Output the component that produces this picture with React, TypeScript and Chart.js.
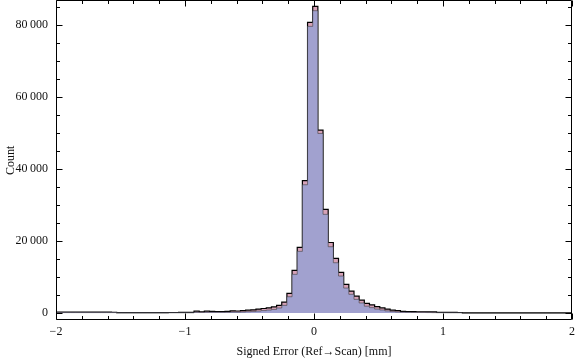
import React, { useEffect, useRef } from 'react';
import { Chart, registerables } from 'chart.js';

Chart.register(...registerables);

// Histogram bins: left edge of first bin and bin width (mm)
const BIN_START = -2.01;
const BIN_WIDTH = 0.04;

// Counts per bin (pink, back series)
const COUNTS_ALL = [
  250, 260, 250, 240, 260, 250, 240, 250, 240, 250, 240, 230, 220,
  120, 110, 120, 110, 120, 110, 120, 130, 120, 130, 140, 150, 160, 170, 180,
  500, 350, 520, 480, 420, 400, 450, 620, 560, 650, 780, 880,
  1100, 1250, 1450, 1700, 2100, 3050, 5470, 11860, 18250, 36800,
  80760, 85200, 50840, 28800, 19600, 15190, 11300, 7970, 6110, 4680,
  3560, 2690, 2250, 1800, 1420, 1110, 830, 640, 470, 400,
  370, 360, 350, 330, 300, 200, 180, 170, 160, 150,
  60, 40, 40, 30, 30, 30, 30, 20, 20, 20, 20, 20, 20, 20, 20, 20, 20, 20, 20, 20, 20,
];

// Counts per bin (purple, front series)
const COUNTS_FRONT = [
  120, 120, 120, 120, 120, 120, 120, 120, 120, 120, 120, 120, 120,
  60, 60, 60, 60, 60, 60, 60, 60, 60, 60, 60, 60, 60, 60, 60,
  200, 150, 220, 200, 180, 180, 200, 260, 250, 300, 380, 450,
  560, 680, 820, 1000, 1400, 2130, 4530, 10750, 17140, 35640,
  79650, 84000, 49900, 27420, 18420, 13970, 10280, 6940, 5200, 3800,
  2800, 1900, 1500, 1100, 850, 600, 400, 300, 220, 180,
  160, 150, 140, 130, 110, 90, 80, 70, 70, 60,
  20, 20, 20, 20, 20, 20, 20, 20, 20, 20, 20, 20, 20, 20, 20, 20, 20, 20, 20, 20, 20,
];

const X_TICKS = [-2, -1, 0, 1, 2];
const Y_TICKS = [0, 20000, 40000, 60000, 80000];
const X_MINOR_STEP = 0.2;
const Y_MINOR_STEP = 5000;
const X_MIN = -2;
const X_MAX = 2;
const Y_MIN = -1800;
const Y_MAX = 86700;
const X_TITLE = 'Signed Error (Ref\u2192Scan) [mm]';
const Y_TITLE = 'Count';

const FONT_FAMILY = '"Liberation Serif", "Times New Roman", Times, serif';

function toSteps(counts: number[]) {
  const pts = counts.map((c, i) => ({ x: +(BIN_START + i * BIN_WIDTH).toFixed(4), y: c }));
  pts.push({ x: +(BIN_START + counts.length * BIN_WIDTH).toFixed(4), y: counts[counts.length - 1] });
  return pts;
}

function fmtY(v: number) {
  if (v === 0) return '0';
  const s = String(Math.round(v));
  return s.replace(/\B(?=(\d{3})+(?!\d))/g, '\u2009');
}

function fmtX(v: number) {
  return v < 0 ? '\u2212' + Math.abs(v) : String(v);
}

function zeroPad(s: any) {
  s.paddingTop = 0;
  s.paddingBottom = 0;
  s.paddingLeft = 0;
  s.paddingRight = 0;
}

const framePlugin = {
  id: 'mmaFrame',
  afterDatasetsDraw(chart: any) {
    const { ctx, chartArea, scales } = chart;
    const { left, right, top, bottom } = chartArea;
    const xs = scales.x;
    const ys = scales.y;
    ctx.save();
    ctx.strokeStyle = '#000';
    ctx.lineWidth = 1;
    const L = Math.round(left) + 0.5;
    const R = Math.round(right) - 0.5;
    const T = Math.round(top) - 0.5;
    const B = Math.round(bottom) - 0.5;
    ctx.beginPath();
    ctx.rect(L, T, R - L, B - T);
    ctx.stroke();
    ctx.beginPath();
    const nx = Math.round((X_MAX - X_MIN) / X_MINOR_STEP);
    for (let i = 0; i <= nx; i++) {
      const v = X_MIN + i * X_MINOR_STEP;
      const major = X_TICKS.some((t) => Math.abs(t - v) < 1e-6);
      const len = major ? 6 : 3.5;
      const px = Math.round(xs.getPixelForValue(v)) + 0.5;
      ctx.moveTo(px, B);
      ctx.lineTo(px, B - len);
      ctx.moveTo(px, T);
      ctx.lineTo(px, T + len);
    }
    for (let v = 0; v <= Y_MAX; v += Y_MINOR_STEP) {
      const major = Y_TICKS.includes(v);
      const len = major ? 6 : 3.5;
      const py = Math.round(ys.getPixelForValue(v)) + 0.5;
      ctx.moveTo(L, py);
      ctx.lineTo(L + len, py);
      ctx.moveTo(R, py);
      ctx.lineTo(R - len, py);
    }
    ctx.stroke();
    ctx.restore();
  },
};

export default function App() {
  const ref = useRef<HTMLCanvasElement | null>(null);

  useEffect(() => {
    document.body.style.margin = '0';
    const canvas = ref.current;
    if (!canvas) return;
    const chart = new Chart(canvas, {
      type: 'line',
      data: {
        datasets: [
          {
            label: 'front',
            data: toSteps(COUNTS_FRONT),
            stepped: 'after',
            fill: 'origin',
            backgroundColor: 'rgb(161,161,207)',
            borderColor: 'rgba(60,60,60,0.65)',
            borderWidth: 0.9,
            pointRadius: 0,
          },
          {
            label: 'all',
            data: toSteps(COUNTS_ALL),
            stepped: 'after',
            fill: 'origin',
            backgroundColor: 'rgb(214,162,184)',
            borderColor: '#000',
            borderWidth: 1.2,
            pointRadius: 0,
          },
        ],
      },
      options: {
        responsive: false,
        animation: false,
        events: [],
        layout: { autoPadding: false, padding: { top: 1, right: 4, left: 0, bottom: 0 } },
        plugins: { legend: { display: false }, tooltip: { enabled: false } },
        scales: {
          x: {
            type: 'linear',
            min: X_MIN,
            max: X_MAX,
            grid: { display: false, drawTicks: false },
            border: { display: false },
            afterBuildTicks: (s: any) => {
              s.ticks = X_TICKS.map((v) => ({ value: v }));
            },
            afterFit: (s: any) => {
              s.height = 39.5;
              zeroPad(s);
            },
            ticks: {
              padding: 5,
              color: '#111',
              font: { family: FONT_FAMILY, size: 12 },
              callback: (v: any) => fmtX(Number(v)),
              maxRotation: 0,
              autoSkip: false,
            },
            title: {
              display: true,
              text: X_TITLE,
              color: '#111',
              font: { family: FONT_FAMILY, size: 12 },
              padding: { top: 1, bottom: 0 },
            },
          },
          y: {
            type: 'linear',
            min: Y_MIN,
            max: Y_MAX,
            grid: { display: false, drawTicks: false },
            border: { display: false },
            afterBuildTicks: (s: any) => {
              s.ticks = Y_TICKS.map((v) => ({ value: v }));
            },
            afterFit: (s: any) => {
              s.width = 56;
              zeroPad(s);
            },
            ticks: {
              padding: 8,
              color: '#111',
              font: { family: FONT_FAMILY, size: 12 },
              callback: (v: any) => fmtY(Number(v)),
              autoSkip: false,
            },
            title: {
              display: true,
              text: Y_TITLE,
              color: '#111',
              font: { family: FONT_FAMILY, size: 12 },
              padding: { top: 4, bottom: 0 },
            },
          },
        },
      },
      plugins: [framePlugin],
    } as any);
    return () => chart.destroy();
  }, []);

  return (
    <div style={{ width: 576, height: 359, background: '#fff' }}>
      <canvas ref={ref} width={576} height={359} style={{ display: 'block' }} />
    </div>
  );
}
